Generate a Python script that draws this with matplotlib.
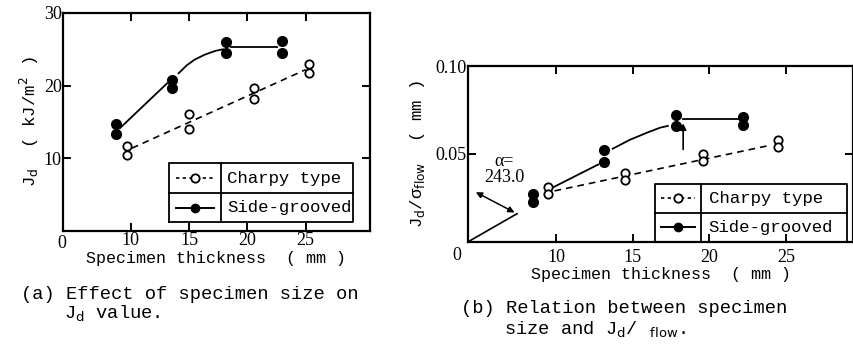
import matplotlib
matplotlib.use("Agg")
import matplotlib.pyplot as plt

# (a) Jd vs specimen thickness
a_charpy_x = [9.7, 9.7, 15.0, 15.0, 20.6, 20.6, 25.3, 25.3]
a_charpy_y = [11.7, 10.5, 16.1, 14.1, 19.7, 18.1, 23.0, 21.7]
a_side_x = [8.7, 8.7, 13.5, 13.5, 18.2, 18.2, 23.0, 23.0]
a_side_y = [14.7, 13.3, 20.8, 19.7, 26.0, 24.5, 26.1, 24.5]
# hand-drawn guide lines
a_side_seg1 = ([9.1, 13.1], [14.2, 20.3])
a_side_seg2 = ([14.1, 14.8, 15.5, 16.4, 17.3, 17.9], [21.7, 22.8, 23.6, 24.3, 24.8, 25.0])
a_side_seg3 = ([18.6, 22.5], [25.3, 25.3])
a_charpy_line = ([10.1, 25.0], [11.4, 22.2])

# (b) Jd / sigma_flow vs specimen thickness
b_charpy_x = [9.5, 9.5, 14.5, 14.5, 19.6, 19.6, 24.5, 24.5]
b_charpy_y = [0.0314, 0.0270, 0.0394, 0.0352, 0.0500, 0.0462, 0.0577, 0.0537]
b_side_x = [8.5, 8.5, 13.1, 13.1, 17.8, 17.8, 22.2, 22.2]
b_side_y = [0.0272, 0.0228, 0.0525, 0.0452, 0.0720, 0.0660, 0.0708, 0.0664]
b_side_seg1 = ([9.8, 12.75], [0.031, 0.044])
b_side_seg2 = ([13.7, 14.8, 15.9, 16.8, 17.3], [0.053, 0.058, 0.062, 0.065, 0.066])
b_side_seg3 = ([18.3, 21.9], [0.070, 0.070])
b_charpy_line = ([9.9, 24.0], [0.029, 0.055])

x_ticks = [10, 15, 20, 25]

MONO = "Liberation Mono"
SERIF = "Liberation Serif"

fig = plt.figure(figsize=(8.54, 3.5), dpi=100)
ax_a = fig.add_axes([0.074, 0.34, 0.359, 0.623])
ax_b = fig.add_axes([0.548, 0.309, 0.451, 0.502])


def style_axes(ax, yticks, ylabels, xpad):
    ax.set_xticks(x_ticks)
    ax.set_xticklabels([str(t) for t in x_ticks], fontfamily=SERIF, fontsize=13)
    ax.set_yticks(yticks)
    ax.set_yticklabels(ylabels, fontfamily=SERIF, fontsize=13)
    ax.tick_params(direction="in", length=6, width=1.4, top=True, right=True,
                   labeltop=False, labelright=False, pad=1)
    ax.tick_params(axis="x", pad=xpad)
    for s in ax.spines.values():
        s.set_linewidth(1.6)


def draw_legend(ax, x0, x1, xm, y0, y1):
    ym = (y0 + y1) / 2
    kw = dict(transform=ax.transAxes, color="black", lw=1.3, clip_on=False)
    ax.plot([x0, x1, x1, x0, x0], [y0, y0, y1, y1, y0], **kw)
    ax.plot([xm, xm], [y0, y1], **kw)
    ax.plot([x0, x1], [ym, ym], **kw)
    cx = (x0 + xm) / 2
    hw = (xm - x0) * 0.36
    r1 = (ym + y1) / 2
    r2 = (y0 + ym) / 2
    ax.plot([cx - hw, cx + hw], [r1, r1], ls=(0, (2, 2)), transform=ax.transAxes,
            color="black", lw=1.2, clip_on=False)
    ax.plot([cx], [r1], "o", mfc="white", mec="black", ms=6, mew=1.3,
            transform=ax.transAxes, clip_on=False)
    ax.plot([cx - hw, cx + hw], [r2, r2], "-", transform=ax.transAxes,
            color="black", lw=1.4, clip_on=False)
    ax.plot([cx], [r2], "o", mfc="black", mec="black", ms=6,
            transform=ax.transAxes, clip_on=False)
    tx = xm + 0.02
    ax.text(tx, r1, "Charpy type", transform=ax.transAxes, fontfamily=MONO,
            fontsize=12.5, va="center", ha="left")
    ax.text(tx, r2, "Side-grooved", transform=ax.transAxes, fontfamily=MONO,
            fontsize=12.5, va="center", ha="left")


# ---- panel (a)
ax = ax_a
ax.set_xlim(4.2, 30.5)
ax.set_ylim(0, 30)
style_axes(ax, [10, 20, 30], ["10", "20", "30"], xpad=1)
ax.plot(*a_charpy_line, ls=(0, (4, 3)), color="black", lw=1.2)
for seg in (a_side_seg1, a_side_seg2, a_side_seg3):
    ax.plot(*seg, "-", color="black", lw=1.3)
ax.plot(a_charpy_x, a_charpy_y, "o", mfc="white", mec="black", ms=6, mew=1.3)
ax.plot(a_side_x, a_side_y, "o", mfc="black", mec="black", ms=7)
ax.text(-0.005, -0.02, "0", transform=ax.transAxes, fontfamily=SERIF,
        fontsize=13, ha="center", va="top")
draw_legend(ax, 0.345, 0.945, 0.515, 0.04, 0.31)
ax.set_xlabel("Specimen thickness  ( mm )", fontfamily=MONO, fontsize=12, labelpad=1)
ax.set_ylabel("J$_\\mathrm{d}$  ( kJ/m$^\\mathrm{2}$ )", fontfamily=MONO,
              fontsize=12.5, labelpad=2)
fig.text(0.025, 0.145, "(a) Effect of specimen size on", fontfamily=MONO, fontsize=13.5)
fig.text(0.075, 0.09, "J$_\\mathrm{d}$ value.", fontfamily=MONO, fontsize=13.5)

# ---- panel (b)
ax = ax_b
ax.set_xlim(4.25, 29.4)
ax.set_ylim(0, 0.10)
style_axes(ax, [0.05, 0.10], ["0.05", "0.10"], xpad=5)
ax.plot(*b_charpy_line, ls=(0, (4, 3)), color="black", lw=1.2)
for seg in (b_side_seg1, b_side_seg2, b_side_seg3):
    ax.plot(*seg, "-", color="black", lw=1.3)
ax.plot(b_charpy_x, b_charpy_y, "o", mfc="white", mec="black", ms=6, mew=1.3)
ax.plot(b_side_x, b_side_y, "o", mfc="black", mec="black", ms=7)
# angle construction
ax.plot([4.25, 7.45], [0.0, 0.016], "-", color="black", lw=1.2)
ax.annotate("", xy=(7.45, 0.016), xytext=(4.6, 0.029),
            arrowprops=dict(arrowstyle="<|-|>", color="black", lw=1.1,
                            mutation_scale=9))
ax.text(6.6, 0.041, "\u03b1=\n243.0", fontfamily=SERIF, fontsize=13,
        ha="center", va="center", linespacing=0.95)
ax.annotate("", xy=(18.3, 0.069), xytext=(18.3, 0.051),
            arrowprops=dict(arrowstyle="-|>", color="black", lw=1.2,
                            mutation_scale=9))
ax.text(-0.03, -0.03, "0", transform=ax.transAxes, fontfamily=SERIF,
        fontsize=13, ha="center", va="top")
draw_legend(ax, 0.485, 0.985, 0.605, 0.0, 0.33)
ax.set_xlabel("Specimen thickness  ( mm )", fontfamily=MONO, fontsize=12, labelpad=1)
ax.set_ylabel("J$_\\mathrm{d}$/\u03c3$_\\mathrm{flow}$  ( mm )", fontfamily=MONO,
              fontsize=12.5, labelpad=6)
fig.text(0.54, 0.105, "(b) Relation between specimen", fontfamily=MONO, fontsize=13.5)
fig.text(0.59, 0.045, "size and J$_\\mathrm{d}$/$_\\mathrm{\\ \\ \\ flow}$.",
         fontfamily=MONO, fontsize=13.5)

fig.savefig("out.png", dpi=100)
